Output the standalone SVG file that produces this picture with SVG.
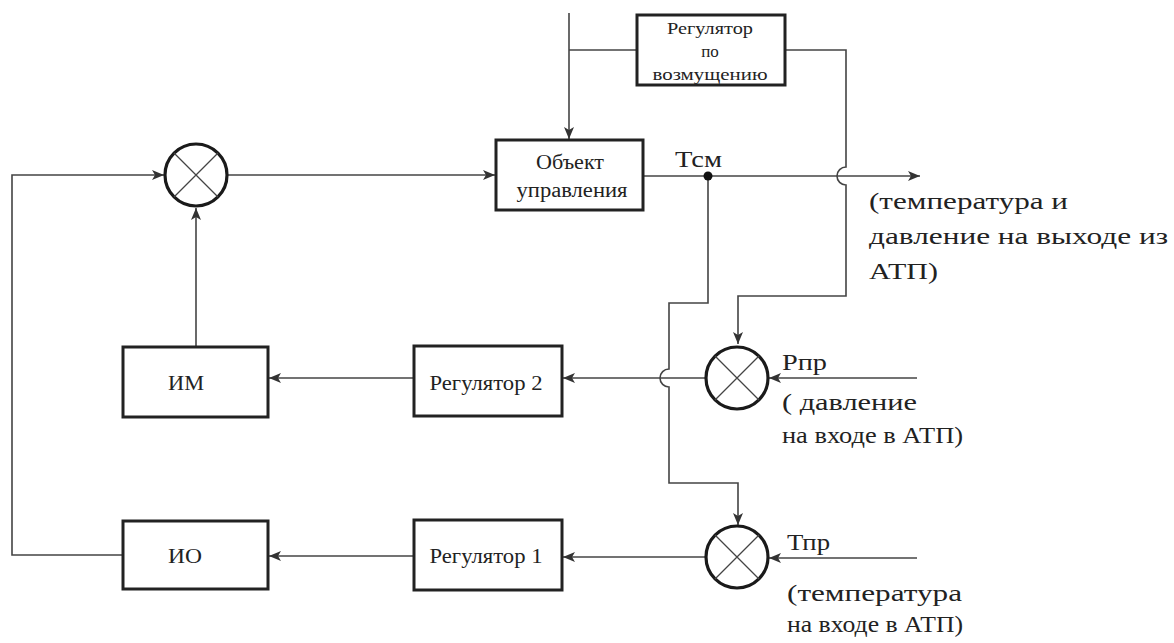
<svg xmlns="http://www.w3.org/2000/svg" width="1174" height="643" viewBox="0 0 1174 643">
<defs>
<marker id="arr" markerUnits="userSpaceOnUse" markerWidth="14" markerHeight="12" refX="12" refY="5" orient="auto">
<path d="M0,0 L12,5 L0,10 L3,5 z" fill="#333"/>
</marker>
<style>
.box{fill:#fff;stroke:#222;stroke-width:3}
.sum{fill:#fff;stroke:#1a1a1a;stroke-width:3.2}
.x{stroke:#444;stroke-width:1.3}
.ln{fill:none;stroke:#444;stroke-width:1.6}
text{font-family:'Liberation Serif','DejaVu Serif',serif;fill:#222}
.t{text-anchor:middle}
.lbl{font-size:24px}
</style>
</defs>
<rect width="1174" height="643" fill="#fff"/>
<g id="connectors">
<path class="ln" d="M569,13 V139" marker-end="url(#arr)"/>
<path class="ln" d="M569,50 H637"/>
<path class="ln" d="M785,50 H846 V167 A9,9 0 0 0 846,185 V296 H738 V344" marker-end="url(#arr)"/>
<path class="ln" d="M228,175 H495" marker-end="url(#arr)"/>
<path class="ln" d="M643,176 H920" marker-end="url(#arr)"/>
<path class="ln" d="M708,176 V303 H669 V369 A9,9 0 0 0 669,387 V483 H738 V525" marker-end="url(#arr)"/>
<path class="ln" d="M196,347 V208" marker-end="url(#arr)"/>
<path class="ln" d="M123,555 H12 V175 H164" marker-end="url(#arr)"/>
<path class="ln" d="M706,378 H563" marker-end="url(#arr)"/>
<path class="ln" d="M414,378 H269" marker-end="url(#arr)"/>
<path class="ln" d="M917,378 H769" marker-end="url(#arr)"/>
<path class="ln" d="M706,557 H563" marker-end="url(#arr)"/>
<path class="ln" d="M414,556 H269" marker-end="url(#arr)"/>
<path class="ln" d="M917,558 H769" marker-end="url(#arr)"/>
<circle cx="708" cy="176" r="4.5" fill="#111"/>
</g>
<g id="reg-vozm">
<rect class="box" x="637" y="15" width="148" height="70"/>
<text class="t" x="710" y="34" font-size="17" textLength="86" lengthAdjust="spacingAndGlyphs">Регулятор</text>
<text class="t" x="710" y="57" font-size="17">по</text>
<text class="t" x="710" y="80" font-size="17" textLength="115" lengthAdjust="spacingAndGlyphs">возмущению</text>
</g>
<g id="obj">
<rect class="box" x="496" y="140" width="147" height="70"/>
<text class="t" x="570" y="169" font-size="20" textLength="68" lengthAdjust="spacingAndGlyphs">Объект</text>
<text class="t" x="572" y="197" font-size="20" textLength="111" lengthAdjust="spacingAndGlyphs">управления</text>
</g>
<g id="sum1">
<circle class="sum" cx="196" cy="175" r="31"/>
<path class="x" d="M174,153 L218,197 M218,153 L174,197"/>
</g>
<g id="sum2">
<circle class="sum" cx="737" cy="378" r="31"/>
<path class="x" d="M715,356 L759,400 M759,356 L715,400"/>
</g>
<g id="sum3">
<circle class="sum" cx="737" cy="557" r="31"/>
<path class="x" d="M715,535 L759,579 M759,535 L715,579"/>
</g>
<g id="im">
<rect class="box" x="123" y="347" width="145" height="70"/>
<text class="t" x="186" y="390" font-size="20" textLength="36" lengthAdjust="spacingAndGlyphs">ИМ</text>
</g>
<g id="reg2">
<rect class="box" x="414" y="346" width="148" height="70"/>
<text class="t" x="486" y="390" font-size="20" textLength="113" lengthAdjust="spacingAndGlyphs">Регулятор 2</text>
</g>
<g id="io">
<rect class="box" x="123" y="521" width="145" height="68"/>
<text class="t" x="185" y="563" font-size="20" textLength="34" lengthAdjust="spacingAndGlyphs">ИО</text>
</g>
<g id="reg1">
<rect class="box" x="414" y="520" width="148" height="70"/>
<text class="t" x="486" y="563" font-size="20" textLength="113" lengthAdjust="spacingAndGlyphs">Регулятор 1</text>
</g>
<g id="labels">
<text class="lbl" x="675" y="167" textLength="47" lengthAdjust="spacingAndGlyphs">Тсм</text>
<text class="lbl" x="869" y="209" textLength="199" lengthAdjust="spacingAndGlyphs">(температура и</text>
<text class="lbl" x="869" y="244" textLength="299" lengthAdjust="spacingAndGlyphs">давление на выходе из</text>
<text class="lbl" x="869" y="279" textLength="69" lengthAdjust="spacingAndGlyphs">АТП)</text>
<text class="lbl" x="782" y="370" textLength="45" lengthAdjust="spacingAndGlyphs">Рпр</text>
<text class="lbl" x="782" y="410" textLength="135" lengthAdjust="spacingAndGlyphs">( давление</text>
<text class="lbl" x="782" y="443" textLength="181" lengthAdjust="spacingAndGlyphs">на входе в АТП)</text>
<text class="lbl" x="787" y="550" textLength="43" lengthAdjust="spacingAndGlyphs">Тпр</text>
<text class="lbl" x="787" y="601" textLength="175" lengthAdjust="spacingAndGlyphs">(температура</text>
<text class="lbl" x="787" y="632" textLength="176" lengthAdjust="spacingAndGlyphs">на входе в АТП)</text>
</g>
</svg>
